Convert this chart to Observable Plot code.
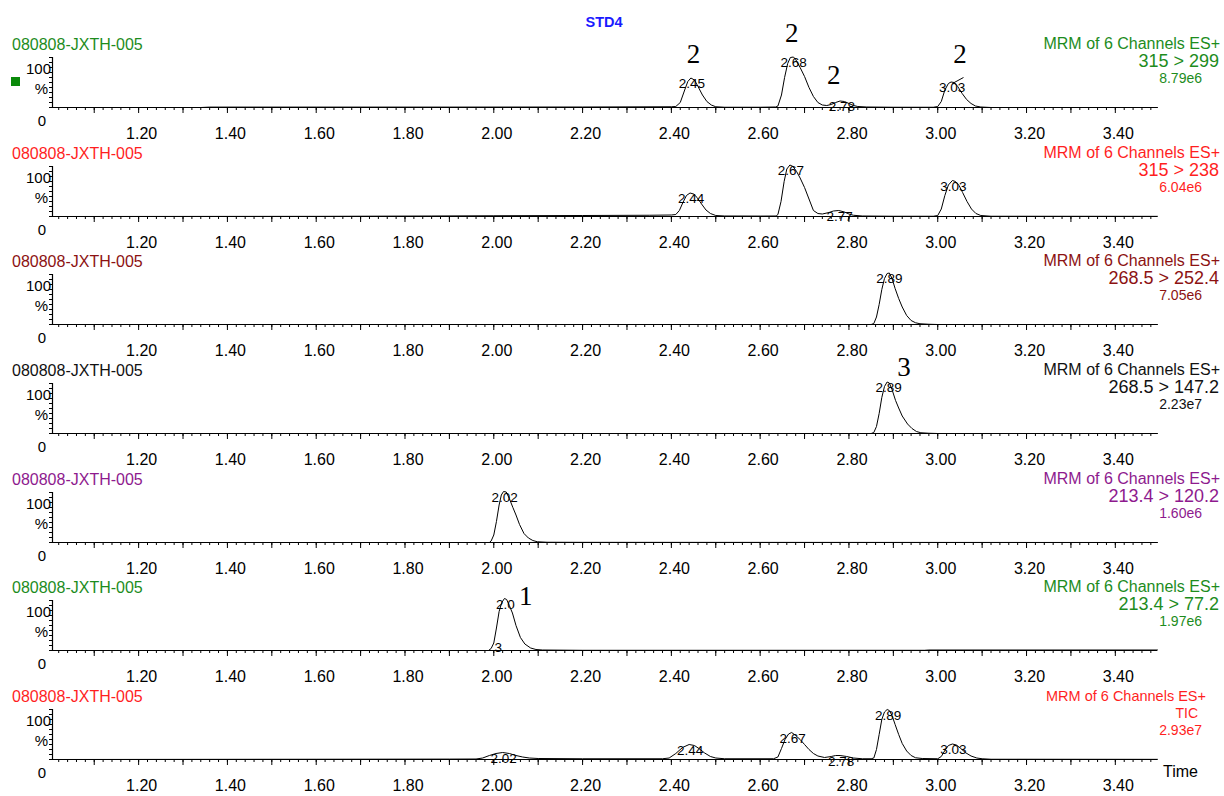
<!DOCTYPE html>
<html><head><meta charset="utf-8">
<script src="https://cdn.jsdelivr.net/npm/d3@7"></script>
<script src="https://cdn.jsdelivr.net/npm/@observablehq/plot@0.6"></script>
<style>
body{margin:0;background:#fff;font-family:"Liberation Sans",Arial,sans-serif;}
#wrap{position:relative;width:1224px;height:796px;overflow:hidden;background:#fff;}
.t{position:absolute;white-space:nowrap;line-height:1;transform:translateY(-50%);}
.r{text-align:right;}
</style></head><body><div id="wrap"></div>
<script>
// ---------- data ----------
const chartTitle = "STD4";
const sampleName = "080808-JXTH-005";
const scanLabel = "MRM of 6 Channels ES+";
const channels = ["315 > 299", "315 > 238", "268.5 > 252.4", "268.5 > 147.2", "213.4 > 120.2", "213.4 > 77.2", "TIC"];
const intensities = ["8.79e6", "6.04e6", "7.05e6", "2.23e7", "1.60e6", "1.97e6", "2.93e7"];
const panelColors = ["#1d8c1d", "#ff1f1f", "#8c1212", "#111111", "#8e1a8e", "#1d8c1d", "#ff1f1f"];
const xDomain = [1.006, 3.495];
const xLabelTicks = [1.2, 1.4, 1.6, 1.8, 2.0, 2.2, 2.4, 2.6, 2.8, 3.0, 3.2, 3.4];
const xMajorTicks = d3.range(11, 35).map(d => d / 10);
const xMinorTicks = d3.range(51, 175).map(d => d / 50);
const yTicks = [0, 10, 20, 30, 40, 50, 60, 70, 80, 90, 100];

// traces: [time (min), relative intensity %]
const trace1 = [[1.006,0],[1.34,0],[1.36,0.8],[1.6,0.8],[1.9,0.8],[2.2,1],[2.40,1.5],
 [2.41,2],[2.42,10],[2.43,35],[2.437,52],[2.444,59],[2.452,55],[2.46,42],[2.47,25],[2.48,12],[2.49,5],[2.50,1.5],[2.52,0.5],
 [2.60,0.5],[2.635,1],
 [2.640,3],[2.648,25],[2.655,60],[2.662,88],[2.668,100],[2.675,101],[2.68,96],[2.69,80],[2.70,62],[2.71,40],[2.72,22],[2.73,10],[2.74,5],[2.75,4],
 [2.76,6],[2.77,10],[2.78,13],[2.79,12],[2.80,8],[2.81,4],[2.82,2],[2.84,1],[2.90,0.5],[2.99,0.5],
 [3.0,2],[3.008,12],[3.016,35],[3.024,48],[3.03,51],[3.037,50],[3.045,42],[3.055,28],[3.065,16],[3.075,8],[3.085,3],[3.097,1],[3.12,0],[3.495,0]];
const trace2 = [[1.006,0],[1.6,0.3],[1.86,1],[2.0,1.5],[2.2,2],[2.35,2.5],[2.40,3],
 [2.41,4],[2.418,12],[2.426,28],[2.434,42],[2.442,47],[2.45,45],[2.458,38],[2.468,25],[2.478,13],[2.488,6],[2.50,2],[2.52,1],[2.60,0.8],[2.636,1],
 [2.640,4],[2.647,30],[2.654,70],[2.660,95],[2.667,103],[2.674,100],[2.682,90],[2.69,77],[2.70,58],[2.71,35],[2.72,12],[2.73,6],[2.74,5],
 [2.755,8],[2.765,11],[2.777,12],[2.79,9],[2.80,5],[2.81,2.5],[2.83,1],[2.9,0.5],[2.99,0.5],
 [3.0,2],[3.008,15],[3.016,42],[3.024,63],[3.033,72],[3.04,70],[3.048,62],[3.056,48],[3.066,30],[3.076,15],[3.086,6],[3.097,2],[3.12,0.5],[3.495,0.3]];
const trace3 = [[1.006,0],[2.85,0],[2.856,2],[2.862,15],[2.868,40],[2.874,70],[2.880,92],[2.886,102],[2.891,103],[2.897,92],[2.904,72],[2.912,52],[2.92,35],[2.93,18],[2.94,8],[2.95,3.5],[2.96,1.5],[2.98,0.5],[3.0,0],[3.495,0]];
const trace4 = [[1.006,0],[2.85,0],[2.856,2],[2.862,14],[2.868,40],[2.874,72],[2.880,94],[2.886,103],[2.891,101],[2.897,88],[2.905,66],[2.912,51],[2.92,35],[2.932,19],[2.942,10],[2.952,4],[2.962,1.5],[2.98,0.5],[3.0,0],[3.495,0]];
const trace5 = [[1.006,0],[1.99,0],[1.994,3],[2.0,15],[2.006,42],[2.012,75],[2.017,95],[2.022,102],[2.028,101],[2.035,88],[2.043,70],[2.05,55],[2.058,36],[2.068,18],[2.078,9],[2.088,4],[2.098,1.5],[2.12,0.5],[2.2,0.3],[3.495,0]];
const trace6 = [[1.006,0],[1.988,0],[1.994,4],[2.0,15],[2.006,45],[2.012,78],[2.018,96],[2.024,104],[2.029,102],[2.035,90],[2.042,75],[2.05,50],[2.06,26],[2.07,13],[2.083,5],[2.095,2],[2.11,1],[2.2,0.4],[2.97,0.4],[2.98,1],[3.495,1]];
const trace7 = [[1.006,0],[1.6,0.5],[1.9,0.8],[1.96,1],[1.975,3],[1.99,8],[2.005,12],[2.02,14],[2.035,12],[2.05,8],[2.065,5],[2.08,3],[2.1,2],[2.2,1.5],[2.38,1.5],
 [2.395,3],[2.41,12],[2.425,24],[2.44,30],[2.452,28],[2.462,22],[2.475,13],[2.488,6],[2.50,3],[2.52,1.5],[2.63,1.5],
 [2.64,5],[2.648,22],[2.656,40],[2.664,51],[2.671,54],[2.68,48],[2.69,40],[2.70,30],[2.71,20],[2.72,12],[2.73,7],[2.745,4],
 [2.76,6],[2.77,8],[2.78,8],[2.795,6],[2.81,3],[2.83,1.5],[2.85,1.5],
 [2.856,3],[2.862,20],[2.868,50],[2.874,80],[2.880,95],[2.886,100],[2.891,98],[2.897,88],[2.904,70],[2.912,50],[2.92,32],[2.93,17],[2.94,8],[2.95,3.5],[2.965,2],[3.0,1.5],
 [3.008,6],[3.016,18],[3.024,28],[3.033,31],[3.042,29],[3.052,22],[3.062,14],[3.075,7],[3.088,3],[3.1,1.5],[3.12,0.5],[3.495,0.3]];
const traces = [trace1, trace2, trace3, trace4, trace5, trace6, trace7];

// peak labels: [time, intensity, text]
const peaks1 = [[2.444,59,"2.45"],[2.673,101,"2.68"],[2.782,13,"2.78"],[3.03,51,"3.03"]];
const peaks2 = [[2.442,47,"2.44"],[2.667,103,"2.67"],[2.777,12,"2.77"],[3.033,72,"3.03"]];
const peaks3 = [[2.889,103,"2.89"]];
const peaks4 = [[2.887,103,"2.89"]];
const peaks5 = [[2.022,102,"2.02"]];
const peaks6 = [[2.024,104,"2.0"],[2.008,18,"3"]];
const peaks7 = [[2.02,14,"2.02"],[2.44,30,"2.44"],[2.671,54,"2.67"],[2.78,8,"2.78"],[2.886,100,"2.89"],[3.033,31,"3.03"]];
const peakLabels = [peaks1, peaks2, peaks3, peaks4, peaks5, peaks6, peaks7];

// compound annotations: [time, intensity, text]
const notes1 = [[2.450,106,"2"],[2.671,148,"2"],[2.766,64,"2"],[3.050,106,"2"]];
const notes4 = [[2.924,132,"3"]];
const notes6 = [[2.072,108,"1"]];
const notes = [notes1, [], [], notes4, [], notes6, []];

// peak marker slash on first trace
const marker1 = [{t1: 3.033, v1: 48, t2: 3.058, v2: 60}];
const markers = [marker1, [], [], [], [], [], []];

// ---------- layout ----------
const wrap = document.getElementById("wrap");
const firstBaseline = 107, step = 108.67;
const FONT = "Liberation Sans, Arial, sans-serif";

function addText(txt, opts) {
  const d = document.createElement("div");
  d.className = "t" + (opts.right != null ? " r" : "");
  d.textContent = txt;
  if (opts.left != null) d.style.left = opts.left + "px";
  if (opts.right != null) d.style.right = opts.right + "px";
  d.style.top = opts.top + "px";
  d.style.fontSize = opts.size + "px";
  d.style.color = opts.color || "#000";
  if (opts.bold) d.style.fontWeight = "bold";
  if (opts.center) { d.style.transform = "translate(-50%,-50%)"; }
  wrap.appendChild(d);
}

const fmt = d3.format(".2f");

traces.forEach((tr, i) => {
  const baseline = firstBaseline + step * i;
  const top = baseline - 75;
  const data = tr.map(([t, v]) => ({t, v}));
  const lbl = peakLabels[i].map(([t, v, s]) => ({t, v, s}));
  const nts = notes[i].map(([t, v, s]) => ({t, v, s}));
  const plot = Plot.plot({
    width: 1224, height: 120,
    marginLeft: 52, marginRight: 67, marginTop: 25, marginBottom: 45,
    x: {domain: xDomain},
    y: {domain: [0, 100]},
    style: {background: "transparent", overflow: "visible", fontFamily: FONT, color: "#000"},
    marks: [
      Plot.axisX(xMinorTicks, {tickSize: 3, tickFormat: () => "", label: null}),
      Plot.axisX(xMajorTicks, {tickSize: 6, tickFormat: () => "", label: null}),
      Plot.axisX(xLabelTicks, {tickSize: 0, tickPadding: 20, tickFormat: fmt, fontSize: 16, dx: 3, label: null}),
      Plot.axisY(yTicks, {tickSize: 3, tickFormat: () => "", label: null}),
      Plot.ruleY([0], {stroke: "#000", strokeWidth: 1.2}),
      Plot.ruleX([xDomain[0]], {stroke: "#000", strokeWidth: 1.2}),
      Plot.line(data, {x: "t", y: "v", stroke: "#000", strokeWidth: 1}),
      Plot.link(markers[i], {x1: "t1", y1: "v1", x2: "t2", y2: "v2", stroke: "#000", strokeWidth: 1}),
      Plot.text(lbl, {x: "t", y: "v", text: "s", dy: 6, dx: 1, fontSize: 13.5, fill: "#000"}),
      Plot.text(nts, {x: "t", y: "v", text: "s", fontSize: 27, fontFamily: "Liberation Serif, Times New Roman, serif", fill: "#000"})
    ]
  });
  plot.style.position = "absolute";
  plot.style.left = "0px";
  plot.style.top = top + "px";
  wrap.appendChild(plot);

  const c = panelColors[i];
  const last = i === 6;
  addText(sampleName, {left: 12, top: baseline - 62, size: 16, color: c});
  addText(scanLabel, {right: 1224 - (last ? 1206 : 1220), top: baseline - 63, size: last ? 14.5 : 16, color: c});
  addText(channels[i], {right: 1224 - (last ? 1198 : 1219), top: baseline - 46, size: last ? 14 : 18, color: c});
  addText(intensities[i], {right: 1224 - 1202, top: baseline - 29, size: 14, color: c});
  addText("100", {right: 1224 - 51, top: baseline - 39, size: 15});
  addText("%", {right: 1224 - 48, top: baseline - 19, size: 15});
  addText("0", {right: 1224 - 46, top: baseline + 13, size: 15});
});

addText(chartTitle, {left: 604, top: 22, size: 14.5, color: "#1a1aff", bold: true, center: true});
addText("Time", {left: 1163, top: 772, size: 16});
const sq = document.createElement("div");
Object.assign(sq.style, {position: "absolute", left: "11px", top: "77px", width: "9px", height: "9px", background: "#0a8a0a"});
wrap.appendChild(sq);
</script></body></html>
